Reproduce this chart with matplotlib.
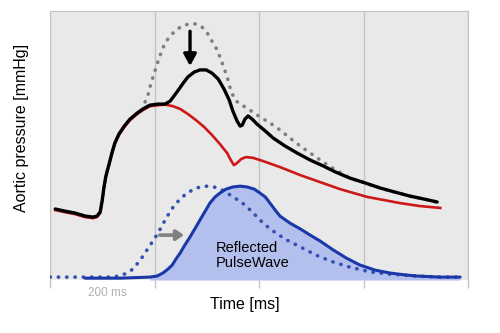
import matplotlib.pyplot as plt

# time [ms] and pressure (arbitrary units, 0-100)
measured_t = [10, 29, 48, 67, 82, 90, 96, 100, 103, 107, 113, 119, 124, 132,
              142, 153, 167, 178, 191, 207, 220, 230, 243, 255, 264, 276, 287,
              299, 310, 322, 333, 343, 350, 358, 364, 368, 373, 379, 387, 396,
              412, 427, 450, 473, 498, 523, 547, 574, 603, 632, 660, 689, 716,
              741]
measured_p = [26.4, 25.6, 24.9, 23.8, 23.4, 23.8, 25.3, 29.7, 34.2, 38.7, 43.1,
              47.6, 50.9, 54.3, 57.2, 59.8, 62.1, 63.6, 65.0, 65.4, 65.4, 66.5,
              69.9, 73.2, 75.5, 77.3, 78.1, 78.1, 76.9, 74.7, 71.0, 66.9, 62.8,
              59.1, 57.2, 57.6, 59.8, 61.0, 59.8, 58.0, 55.4, 52.8, 49.8, 47.2,
              44.6, 42.4, 40.1, 37.9, 36.1, 34.2, 32.7, 31.2, 30.1, 29.0]

forward_t = [10, 29, 48, 67, 82, 90, 96, 100, 103, 107, 113, 119, 124, 132,
             142, 153, 167, 178, 191, 207, 220, 234, 249, 264, 279, 295, 310,
             325, 339, 346, 352, 358, 366, 375, 389, 408, 440, 479, 517, 555,
             607, 670, 708, 747]
forward_p = [26.0, 25.2, 24.5, 23.4, 23.0, 23.4, 24.9, 29.3, 33.8, 38.3, 42.7,
             47.2, 50.5, 53.9, 56.8, 59.4, 61.7, 63.2, 64.6, 65.0, 65.2, 64.7,
             63.6, 61.7, 59.5, 56.9, 53.9, 50.6, 47.2, 44.6, 42.7, 43.5, 45.0,
             45.7, 45.4, 44.2, 42.0, 39.0, 36.4, 33.8, 30.9, 28.6, 27.5, 26.8]

augmented_t = [182, 188, 193, 199, 205, 213, 220, 230, 241, 253, 266, 279, 291,
               301, 310, 320, 329, 339, 346, 354, 364, 377, 402, 421, 440, 459,
               479, 498, 517, 536, 555, 574, 603, 632, 660, 689, 716, 741]
augmented_p = [66.2, 69.1, 72.9, 76.6, 80.3, 84.7, 88.1, 90.7, 92.9, 94.4, 95.2,
               95.2, 94.0, 91.8, 88.8, 85.5, 81.0, 75.5, 70.6, 66.9, 65.4, 63.9,
               60.6, 58.4, 55.8, 52.8, 49.8, 47.2, 44.6, 42.2, 40.0, 37.9, 36.1,
               34.2, 32.7, 31.2, 30.1, 29.0]

early_wave_t = [0, 57, 115, 134, 147, 159, 168, 178, 188, 197, 207, 216, 226,
                237, 249, 262, 276, 287, 301, 314, 329, 345, 360, 373, 387, 402,
                421, 450, 479, 509, 542, 574, 613, 651, 702, 747, 785]
early_wave_p = [1.1, 1.1, 1.1, 1.5, 2.6, 4.1, 6.3, 8.9, 11.9, 14.5, 17.5, 20.8,
                24.2, 27.5, 30.1, 32.3, 33.8, 34.6, 34.9, 34.6, 33.5, 31.6,
                29.7, 27.9, 25.3, 22.3, 19.0, 15.2, 12.3, 9.3, 6.7, 4.8, 3.0,
                2.2, 1.5, 1.1, 1.1]

reflected_t = [67, 134, 191, 205, 216, 226, 234, 241, 249, 258, 268, 278, 287,
               297, 306, 316, 325, 337, 350, 364, 377, 391, 402, 412, 421, 431,
               440, 459, 479, 498, 517, 542, 567, 593, 622, 651, 680, 702, 747,
               785]
reflected_p = [0.7, 0.7, 1.1, 1.5, 2.6, 4.1, 5.6, 7.8, 10.0, 13.0, 16.0, 19.3,
               22.3, 25.6, 28.6, 30.9, 32.3, 33.8, 34.6, 34.9, 34.6, 33.8, 32.3,
               30.9, 28.6, 26.0, 23.8, 21.2, 19.0, 16.7, 14.5, 11.2, 8.2, 5.6,
               3.7, 2.6, 1.9, 1.5, 1.1, 1.1]

grid_ticks = [0, 200, 400, 600, 800]

fig = plt.figure(figsize=(5, 3.33), dpi=100)
ax = fig.add_axes([0.1, 0.159, 0.836, 0.808])
ax.set_facecolor("#e9e9e9")
ax.set_xlim(0, 800)
ax.set_ylim(0, 100)

ax.set_xticks(grid_ticks)
ax.set_xticklabels([])
ax.set_yticks([])
ax.tick_params(axis="x", direction="out", length=6, width=1, color="#c4c4c4")
ax.grid(axis="x", color="#c4c4c4", linewidth=1)
for side in ("left", "right", "top"):
    ax.spines[side].set_color("#c4c4c4")
ax.spines["bottom"].set_visible(False)

dotted = (0, (0.1, 2.2))

# reflected wave with its fill
start = next(i for i, t in enumerate(reflected_t) if t >= 191)
ax.fill_between(reflected_t[start:], 0, reflected_p[start:], color="#b3c0ee",
                linewidth=0, zorder=2)
ax.plot(early_wave_t, early_wave_p, color="#3550b0", lw=2.6, ls=dotted,
        dash_capstyle="round", zorder=3)
ax.plot(reflected_t, reflected_p, color="#1a38a8", lw=2.2,
        solid_capstyle="round", solid_joinstyle="round", zorder=4)

# pressure curves
ax.plot(augmented_t, augmented_p, color="#808080", lw=2.6, ls=dotted,
        dash_capstyle="round", zorder=3)
ax.plot(forward_t, forward_p, color="#cc1818", lw=1.9,
        solid_joinstyle="round", zorder=4)
ax.plot(measured_t, measured_p, color="black", lw=2.4,
        solid_joinstyle="round", solid_capstyle="round", zorder=5)

ax.annotate("", xy=(268, 78.5), xytext=(268, 93.5),
            arrowprops=dict(arrowstyle="-|>,head_width=0.38,head_length=0.7",
                            color="black", lw=2.4), zorder=6)
ax.annotate("", xy=(262, 16.7), xytext=(205, 16.7),
            arrowprops=dict(arrowstyle="-|>,head_width=0.3,head_length=0.45",
                            color="#808080", lw=2.6), zorder=6)

ax.text(318, 9.0, "Reflected\nPulseWave", fontsize=10.5,
        family="Liberation Sans", linespacing=1.1, va="center", ha="left",
        zorder=7)

fig.text(107 / 500, 1 - 293 / 333, "200 ms", fontsize=8.5, color="#b0b0b0",
         family="Liberation Sans", ha="center", va="center")
fig.text(245 / 500, 1 - 305 / 333, "Time [ms]", fontsize=11.5,
         family="Liberation Sans", ha="center", va="center")
fig.text(22 / 500, 1 - 128 / 333, "Aortic pressure [mmHg]", fontsize=11.5,
         family="Liberation Sans", rotation=90, ha="center", va="center")

fig.savefig("out.png", dpi=100)
